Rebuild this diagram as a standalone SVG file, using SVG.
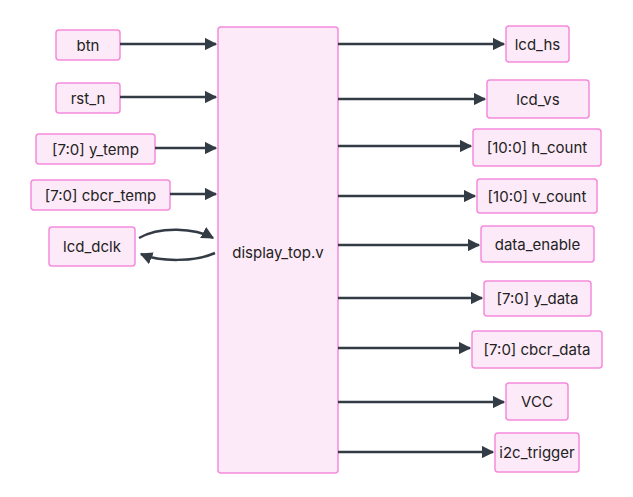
<svg xmlns="http://www.w3.org/2000/svg" width="633" height="497" viewBox="0 0 633 497">
<style>
.n rect{fill:#fdeaf8;stroke:#f58ada;stroke-width:1.5}
.n text{font-family:Inter,"Liberation Sans",sans-serif;font-size:15px;fill:#222;text-anchor:middle;dominant-baseline:central}
.c path{fill:none;stroke:#333b45;stroke-width:2.5;marker-end:url(#a)}
</style>
<defs><marker id="a" viewBox="0 0 10 10" refX="9" refY="5" markerWidth="5" markerHeight="5" orient="auto"><path d="M0,0L10,5L0,10z" fill="#333b45"/></marker></defs>
<rect width="633" height="497" fill="#fff"/>
<g id="display_top"  class="n"><rect x="218" y="27" width="120" height="446" rx="3"/><text x="278" y="252">display_top.v</text></g>
<g id="btn" class="n"><rect x="56" y="30" width="64" height="30" rx="3"/><text x="88" y="45">btn</text></g>
<g id="rst_n" class="n"><rect x="56" y="83" width="64" height="30" rx="3"/><text x="88" y="98">rst_n</text></g>
<g id="y_temp" class="n"><rect x="36" y="134" width="119" height="30" rx="3"/><text x="95.5" y="149">[7:0] y_temp</text></g>
<g id="cbcr_temp" class="n"><rect x="31" y="180" width="139" height="30" rx="3"/><text x="100.5" y="195">[7:0] cbcr_temp</text></g>
<g id="lcd_dclk" class="n"><rect x="49" y="227" width="86" height="39" rx="3"/><text x="92" y="246.5">lcd_dclk</text></g>
<g id="lcd_hs" class="n"><rect x="506" y="26" width="63" height="36" rx="3"/><text x="537.5" y="44">lcd_hs</text></g>
<g id="lcd_vs" class="n"><rect x="487" y="80" width="102" height="38" rx="3"/><text x="538" y="99">lcd_vs</text></g>
<g id="h_count" class="n"><rect x="473" y="129" width="128" height="37" rx="3"/><text x="537" y="147.5">[10:0] h_count</text></g>
<g id="v_count" class="n"><rect x="477" y="179" width="120" height="34" rx="3"/><text x="537" y="196">[10:0] v_count</text></g>
<g id="data_enable" class="n"><rect x="481" y="226" width="113" height="36" rx="3"/><text x="537.5" y="244">data_enable</text></g>
<g id="y_data" class="n"><rect x="484" y="281" width="107" height="35" rx="3"/><text x="537.5" y="298.5">[7:0] y_data</text></g>
<g id="cbcr_data" class="n"><rect x="472" y="331" width="130" height="37" rx="3"/><text x="537" y="349.5">[7:0] cbcr_data</text></g>
<g id="VCC" class="n"><rect x="506" y="383" width="62" height="37" rx="3"/><text x="537" y="401.5">VCC</text></g>
<g id="i2c_trigger" class="n"><rect x="495" y="433" width="84" height="39" rx="3"/><text x="537" y="452.5">i2c_trigger</text></g>
<g id="connectors" class="c">
<path d="M120,44H216"/><path d="M120,97H216"/><path d="M155,148H216"/><path d="M170,194H216"/>
<path d="M139,238C160,226 195,228 213,238"/><path d="M215,253C195,262 160,262 141,254"/>
<path d="M338,44H504"/><path d="M338,99H485"/><path d="M338,146H471"/><path d="M338,196H475"/>
<path d="M338,245H479"/><path d="M338,298H482"/><path d="M338,348H470"/><path d="M338,402H504"/><path d="M338,452H493"/>
</g>
</svg>
